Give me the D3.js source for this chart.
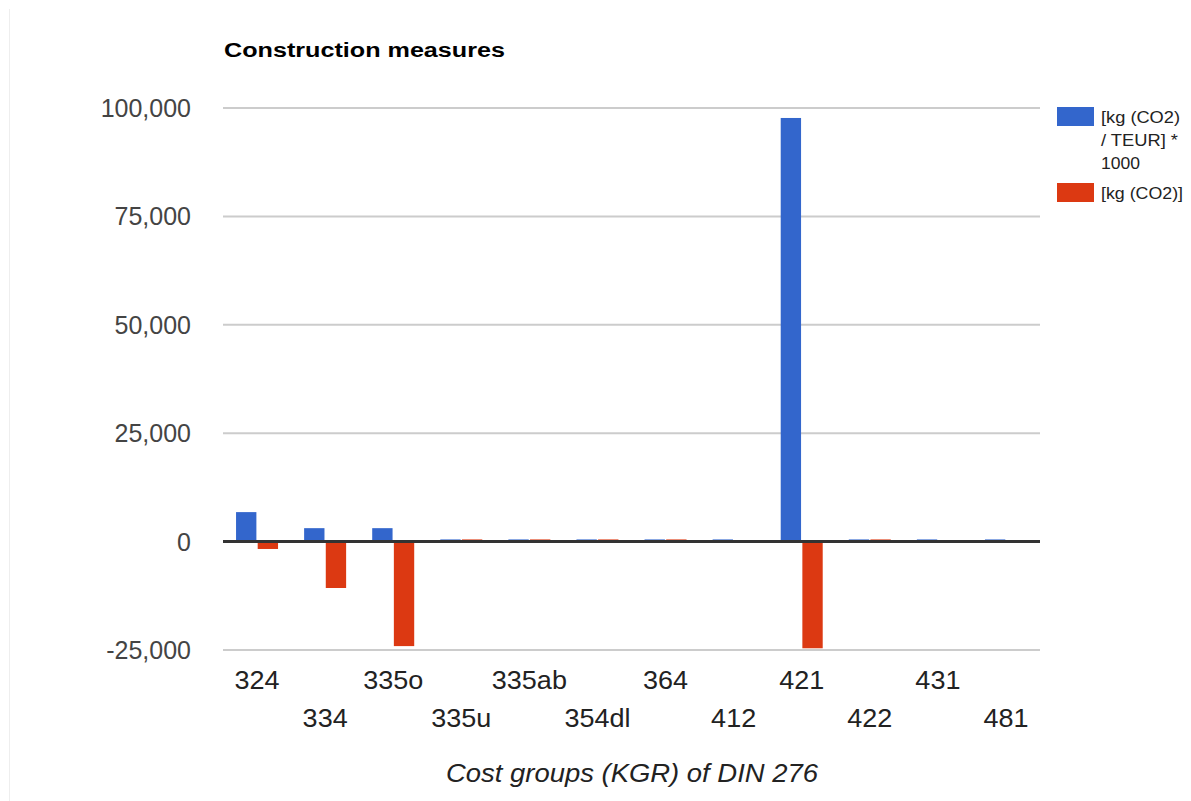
<!DOCTYPE html>
<html>
<head>
<meta charset="utf-8">
<script src="https://cdn.jsdelivr.net/npm/d3@7/dist/d3.min.js"></script>
<style>
  html, body { margin: 0; padding: 0; background: #fff; }
  svg { display: block; font-family: Arial, "Liberation Sans", sans-serif; }
</style>
</head>
<body>
<svg id="chart" width="1191" height="801"></svg>
<script>
// Cost groups (KGR) of DIN 276
const categories = ["324", "334", "335o", "335u", "335ab", "354dl", "364", "412", "421", "422", "431", "481"];
// [kg (CO2) / TEUR] * 1000
const intensityValues = [6800, 3100, 3100, 500, 500, 500, 500, 500, 97700, 500, 500, 500];
// [kg (CO2)]
const emissionValues = [-1700, -10700, -24100, 500, 500, 500, 500, 0, -24600, 500, 0, 0];
const seriesNames = ["[kg (CO2) / TEUR] * 1000", "[kg (CO2)]"];
const seriesColors = ["#3366cc", "#dc3912"];
const yTicks = [-25000, 0, 25000, 50000, 75000, 100000];

const svg = d3.select("#chart");
const plot = { left: 223, right: 1040, top: 108, bottom: 650 };
const fmt = d3.formatLocale({ decimal: ".", thousands: ",", grouping: [3], currency: ["", ""], minus: "-" }).format(",");

// faint frame edge on the left
svg.append("line")
  .attr("x1", 9.5).attr("x2", 9.5).attr("y1", 9).attr("y2", 801)
  .attr("stroke", "#eeeeee").attr("stroke-width", 1);

const y = d3.scaleLinear().domain([-25000, 100000]).range([plot.bottom, plot.top]);
const x0 = d3.scaleBand().domain(categories).range([plot.left, plot.right]);
const groupWidth = 42;
const x1 = d3.scaleBand().domain([0, 1]).range([0, groupWidth]).paddingInner(0.06);

// gridlines
svg.append("g").selectAll("line")
  .data(yTicks.filter(d => d !== 0))
  .join("line")
  .attr("x1", plot.left).attr("x2", plot.right)
  .attr("y1", d => y(d)).attr("y2", d => y(d))
  .attr("stroke", "#cccccc").attr("stroke-width", 2);

// y tick labels
svg.append("g").selectAll("text")
  .data(yTicks)
  .join("text")
  .attr("x", 191)
  .attr("y", d => y(d))
  .attr("dy", "0.36em")
  .attr("text-anchor", "end")
  .attr("font-size", 25)
  .attr("fill", "#444444")
  .text(d => fmt(d));

// bars
const rows = categories.map((c, i) => ({ cat: c, vals: [intensityValues[i], emissionValues[i]] }));
const groups = svg.append("g").selectAll("g")
  .data(rows)
  .join("g")
  .attr("transform", d => `translate(${x0(d.cat) + (x0.bandwidth() - groupWidth) / 2},0)`);

groups.selectAll("rect")
  .data(d => d.vals.map((v, s) => ({ v, s })))
  .join("rect")
  .attr("x", d => x1(d.s))
  .attr("width", x1.bandwidth())
  .attr("y", d => Math.min(y(d.v), y(0)))
  .attr("height", d => Math.abs(y(d.v) - y(0)))
  .attr("fill", d => seriesColors[d.s]);

// zero baseline
svg.append("line")
  .attr("x1", plot.left).attr("x2", plot.right)
  .attr("y1", y(0)).attr("y2", y(0))
  .attr("stroke", "#333333").attr("stroke-width", 3);

// category labels, staggered on two rows
svg.append("g").selectAll("text")
  .data(categories)
  .join("text")
  .attr("transform", (d, i) => `translate(${x0(d) + x0.bandwidth() / 2},${i % 2 === 0 ? 689 : 727}) scale(1.08,1)`)
  .attr("text-anchor", "middle")
  .attr("font-size", 25)
  .attr("fill", "#222222")
  .text(d => d);

// title
svg.append("text")
  .attr("x", 224).attr("y", 57)
  .attr("font-size", 20).attr("font-weight", "bold")
  .attr("fill", "#000000")
  .attr("textLength", 281).attr("lengthAdjust", "spacingAndGlyphs")
  .text("Construction measures");

// x-axis title
svg.append("text")
  .attr("x", 446).attr("y", 782)
  .attr("font-size", 25).attr("font-style", "italic")
  .attr("fill", "#222222")
  .attr("textLength", 372).attr("lengthAdjust", "spacingAndGlyphs")
  .text("Cost groups (KGR) of DIN 276");

// legend
const legendLines = [[["[kg (CO2)", 79], ["/ TEUR] *", 77], ["1000", 39]], [["[kg (CO2)]", 82]]];
const legendTops = [107, 183];
const legend = svg.append("g").selectAll("g")
  .data(seriesNames)
  .join("g")
  .attr("transform", (d, i) => `translate(1057,${legendTops[i]})`);
legend.append("rect")
  .attr("width", 37).attr("height", 19)
  .attr("fill", (d, i) => seriesColors[i]);
legend.each(function (d, i) {
  d3.select(this).selectAll("text")
    .data(legendLines[i])
    .join("text")
    .attr("x", 44)
    .attr("y", (l, j) => 16 + j * 23)
    .attr("font-size", 16).attr("fill", "#222222")
    .attr("textLength", l => l[1]).attr("lengthAdjust", "spacingAndGlyphs")
    .text(l => l[0]);
});
</script>
</body>
</html>
